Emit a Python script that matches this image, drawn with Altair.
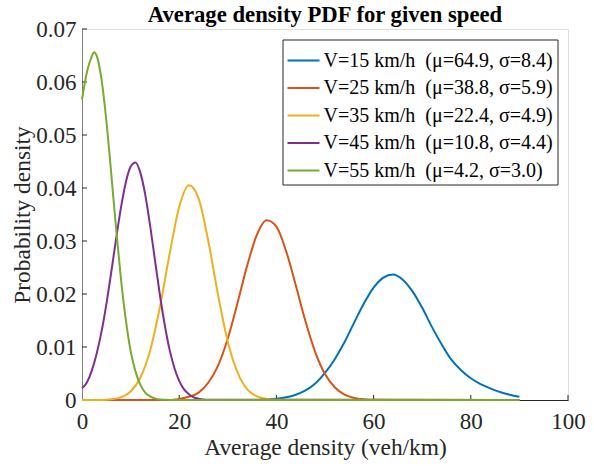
import altair as alt
import pandas as pd

FONT = "Liberation Serif"

names = [
    "V=15 km/h \u00a0(μ=64.9, σ=8.4)",
    "V=25 km/h \u00a0(μ=38.8, σ=5.9)",
    "V=35 km/h \u00a0(μ=22.4, σ=4.9)",
    "V=45 km/h \u00a0(μ=10.8, σ=4.4)",
    "V=55 km/h \u00a0(μ=4.2, σ=3.0)",
]
colors = ["#0072BD", "#D95319", "#EDB120", "#7E2F8E", "#77AC30"]

blue_x = [0, 36] + list(range(38, 91, 2))
blue_y = [0, 0, 0.0001, 0.00024, 0.0005, 0.0010, 0.0018, 0.0031, 0.0051, 0.0077,
          0.0109, 0.0146, 0.0182, 0.0212, 0.0231, 0.0237, 0.0227, 0.0205, 0.0174,
          0.0138, 0.0105, 0.0076, 0.0056, 0.0041, 0.0030, 0.0022, 0.0015, 0.0010, 0.0006]

red_x = [0, 18] + list(range(20, 61, 2)) + [90]
red_y = [0, 0, 0.0002, 0.0006, 0.0014, 0.0033, 0.0065, 0.0116, 0.0183, 0.0254,
         0.0312, 0.0339, 0.0327, 0.0281, 0.0216, 0.0148, 0.0090, 0.0049, 0.0024,
         0.0010, 0.0004, 0.00014, 0.00004, 0]

yellow_x = [0, 4] + list(range(6, 41, 2)) + [90]
yellow_y = [0, 0, 0.00013, 0.0005, 0.0016, 0.0042, 0.0093, 0.0174, 0.0274, 0.0364,
            0.0405, 0.0380, 0.0299, 0.0198, 0.0110, 0.0052, 0.0020, 0.0007, 0.0002,
            0.00004, 0]

purple_x = list(range(0, 27)) + [90]
purple_y = [0.0022, 0.0033, 0.0055, 0.0087, 0.0128, 0.0180, 0.0240, 0.0303, 0.0362,
            0.0410, 0.0440, 0.0448, 0.0429, 0.0388, 0.0330, 0.0265, 0.0200, 0.0143,
            0.0096, 0.0061, 0.0036, 0.0020, 0.0011, 0.0005, 0.00025, 0.0001, 0.00004, 0]

green_x = [0, 1, 2, 2.5, 3] + list(range(4, 19)) + [90]
green_y = [0.0567, 0.0618, 0.0648, 0.0656, 0.0650, 0.0606, 0.0528, 0.0429, 0.0325, 0.0230,
           0.0152, 0.0093, 0.0054, 0.0029, 0.0014, 0.0007, 0.0003, 0.0001, 0.00005, 0, 0]

x_ticks = [0, 20, 40, 60, 80, 100]
y_ticks = [0, 0.01, 0.02, 0.03, 0.04, 0.05, 0.06, 0.07]

W, H = 486, 371

xscale = alt.Scale(domain=[0, 100], nice=False, zero=False)
yscale = alt.Scale(domain=[0, 0.07], nice=False)

xaxis = alt.Axis(values=x_ticks, grid=False, ticks=False, domainColor="#262626",
                 labelFont=FONT, labelFontSize=23, labelColor="#262626", labelPadding=10,
                 title="Average density (veh/km)", titleFont=FONT, titleFontSize=23.4,
                 titleFontWeight="normal", titleColor="#262626", titlePadding=3,
                 labelFlush=False)
yaxis = alt.Axis(values=y_ticks, grid=False, ticks=False, domainColor="#808080",
                 format=".2~f", labelFont=FONT, labelFontSize=23, labelColor="#262626",
                 labelPadding=6, title="Probability density", titleFont=FONT,
                 titleFontSize=23.4, titleFontWeight="normal", titleColor="#262626",
                 titlePadding=1, labelFlush=False)

color_enc = alt.Color(
    "series:N",
    scale=alt.Scale(domain=names, range=colors),
    legend=alt.Legend(orient="none", legendX=200.5, legendY=10.5, title=None,
                      symbolType="stroke", symbolSize=1024, symbolStrokeWidth=2,
                      labelFont=FONT, labelFontSize=20, labelColor="#000000",
                      labelLimit=500, labelOffset=3, padding=4, rowPadding=0.5,
                      strokeColor="#262626", fillColor="white"),
)

series = [(names[0], blue_x, blue_y), (names[1], red_x, red_y), (names[2], yellow_x, yellow_y),
          (names[3], purple_x, purple_y), (names[4], green_x, green_y)]

layers = []
for name, xs, ys in series:
    df = pd.DataFrame({"density": xs, "prob": ys, "series": name})
    layers.append(
        alt.Chart(df).mark_line(strokeWidth=2, interpolate="monotone").encode(
            x=alt.X("density:Q", scale=xscale, axis=xaxis),
            y=alt.Y("prob:Q", scale=yscale, axis=yaxis),
            color=color_enc,
        )
    )

ytick_df = pd.DataFrame({"prob": y_ticks[1:]})
ytick_layer = alt.Chart(ytick_df).mark_rule(color="#262626", strokeWidth=1).encode(
    y=alt.Y("prob:Q", scale=yscale, axis=yaxis), x=alt.value(0), x2=alt.value(5))

xtick_df = pd.DataFrame({"density": x_ticks[1:]})
xtick_layer = alt.Chart(xtick_df).mark_rule(color="#262626", strokeWidth=1).encode(
    x=alt.X("density:Q", scale=xscale, axis=xaxis), y=alt.value(H), y2=alt.value(H - 5))

chart = alt.layer(ytick_layer, xtick_layer, *layers).properties(
    width=W, height=H,
    title=alt.TitleParams("Average density PDF for given speed", font=FONT, fontSize=22.7,
                          fontWeight="bold", color="#000000", anchor="middle", offset=-9),
    autosize=alt.AutoSizeParams(type="none"),
    padding={"left": 82, "top": 29, "right": 26, "bottom": 66},
).configure_view(stroke=None).configure(background="white")

chart.save("out.html", embed_options={"renderer": "svg", "actions": False})
